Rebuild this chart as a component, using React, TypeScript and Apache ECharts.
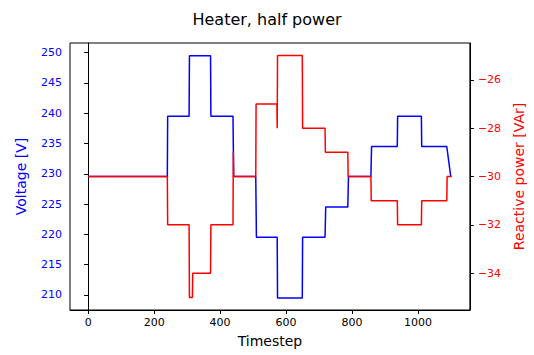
import React, { useEffect, useRef } from "react";
import * as echarts from "echarts";

// Voltage trace [timestep, V]
const voltageSteps: [number, number][] = [
  [0, 229.55], [240, 229.55], [241, 239.5], [306, 239.5], [307, 249.5],
  [371, 249.5], [372, 239.5], [439, 239.5], [441, 229.55], [508, 229.55],
  [510, 219.5], [573, 219.5], [574, 209.5], [649, 209.5], [650, 219.5],
  [718, 219.5], [720, 224.5], [787, 224.5], [789, 229.55], [857, 229.55],
  [859, 234.5], [937, 234.5], [938, 239.5], [1010, 239.5], [1011, 234.5],
  [1087, 234.5], [1099, 229.55],
];

// Reactive power trace [timestep, VAr]
const reactiveSteps: [number, number][] = [
  [0, -30], [240, -30], [241, -32], [306, -32], [307, -35], [316, -35],
  [317, -34], [371, -34], [372, -32], [439, -32], [440, -29], [441, -30],
  [508, -30], [509, -27], [572, -27], [573, -28], [574, -25], [649, -25],
  [650, -28], [718, -28], [719, -29], [787, -29], [788, -30], [857, -30],
  [858, -31], [937, -31], [938, -32], [1010, -32], [1011, -31], [1087, -31],
  [1088, -30], [1102, -30],
];

const xTicks = [0, 200, 400, 600, 800, 1000];
const voltageTicks = [210, 215, 220, 225, 230, 235, 240, 245, 250];
const reactiveTicks = [-34, -32, -30, -28, -26];

const FONT = "DejaVu Sans";

export default function App() {
  const ref = useRef<HTMLDivElement>(null);
  useEffect(() => {
    if (!ref.current) return;
    const chart = echarts.init(ref.current, undefined, { renderer: "svg" });
    chart.setOption({
      animation: false,
      textStyle: { fontFamily: FONT },
      title: {
        text: "Heater, half power",
        left: "center",
        top: 6,
        textStyle: { fontFamily: FONT, fontSize: 16, fontWeight: "normal", color: "#000" },
      },
      grid: {
        left: 70,
        right: 54,
        top: 43,
        bottom: 45,
        show: true,
        borderColor: "#000",
        borderWidth: 1,
        backgroundColor: "transparent",
      },
      xAxis: {
        type: "value",
        min: -55,
        max: 1157,
        name: "Timestep",
        nameLocation: "middle",
        nameGap: 24,
        nameTextStyle: { fontFamily: FONT, fontSize: 14, color: "#000" },
        axisLine: { show: true, lineStyle: { color: "#000", width: 1 } },
        axisTick: { show: true, length: 4, customValues: xTicks, lineStyle: { color: "#000" } },
        axisLabel: {
          customValues: xTicks,
          fontSize: 11,
          color: "#000",
          margin: 7,
          fontFamily: FONT,
          formatter: (v: number) => String(v),
        },
        splitLine: { show: false },
      },
      yAxis: [
        {
          type: "value",
          position: "left",
          min: 207.5,
          max: 251.6,
          name: "Voltage [V]",
          nameLocation: "middle",
          nameGap: 42,
          nameTextStyle: { fontFamily: FONT, fontSize: 14, color: "#0000ff" },
          axisLine: { show: true, lineStyle: { color: "#000", width: 1 } },
          axisTick: { show: true, length: 4, customValues: voltageTicks, lineStyle: { color: "#000" } },
          axisLabel: {
            customValues: voltageTicks,
            fontSize: 11,
            color: "#0000ff",
            margin: 8,
            fontFamily: FONT,
            formatter: (v: number) => String(v),
          },
          splitLine: { show: false },
        },
        {
          type: "value",
          position: "right",
          min: -35.52,
          max: -24.48,
          name: "Reactive power [VAr]",
          nameLocation: "middle",
          nameGap: 36,
          nameTextStyle: { fontFamily: FONT, fontSize: 14, color: "#ff0000" },
          axisLine: { show: true, lineStyle: { color: "#000", width: 1 } },
          axisTick: { show: true, length: 4, customValues: reactiveTicks, lineStyle: { color: "#000" } },
          axisLabel: {
            customValues: reactiveTicks,
            fontSize: 11,
            color: "#ff0000",
            margin: 8,
            fontFamily: FONT,
            formatter: (v: number) => String(v).replace("-", "\u2212"),
          },
          splitLine: { show: false },
        },
      ],
      series: [
        {
          type: "line",
          xAxisIndex: 0,
          yAxisIndex: 0,
          data: voltageSteps,
          showSymbol: false,
          lineStyle: { color: "#0000ff", width: 1.5 },
          itemStyle: { color: "#0000ff" },
        },
        {
          type: "line",
          xAxisIndex: 0,
          yAxisIndex: 1,
          data: reactiveSteps,
          showSymbol: false,
          lineStyle: { color: "#ff0000", width: 1.5 },
          itemStyle: { color: "#ff0000" },
        },
      ],
    });
    return () => chart.dispose();
  }, []);
  return (
    <div
      ref={ref}
      style={{ position: "fixed", left: 0, top: 0, width: 534, height: 355, background: "#fff" }}
    />
  );
}
